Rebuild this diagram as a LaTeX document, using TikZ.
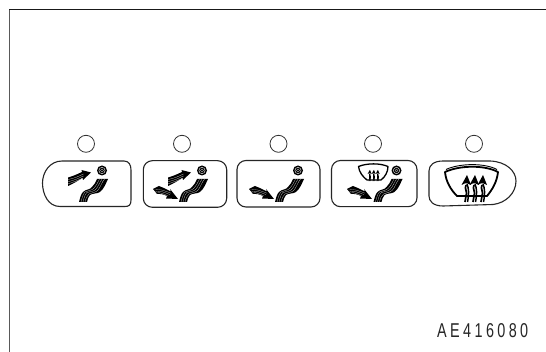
\documentclass[tikz,border=0pt]{standalone}
\usepackage{fontspec}
\setmainfont{Liberation Sans}
\newfontfamily\codefont[FakeStretch=.72]{Liberation Sans}
\tikzset{
  px/.style={x=1pt,y=-1pt},
  panel/.style={draw=black!85,line width=1.1pt,line join=round},
  lamp/.style={circle,draw=black!80,line width=.8pt,minimum size=17pt,inner sep=0pt},
  frameline/.style={draw=black!65,line width=1.5pt},
  stripe/.style={draw=white,line width=.16pt},
  wire/.style={draw=black!90,line width=1.6pt},
  label/.style={inner sep=0pt,text=black!85}
}
\newcommand{\seatshape}[2]{%
 \begin{scope}[shift={(#1,#2)}]
  \fill[black] (0,0) .. controls (1,-4) and (2,-8) .. (4,-10) .. controls (7,-13) and (11,-12) .. (13,-15) .. controls (15,-17) and (17,-20) .. (18,-23)
   -- (29,-23) .. controls (27,-19) and (25,-13) .. (21,-10) .. controls (18,-8) and (14,-9) .. (11,-7) .. controls (9,-5) and (9,-3) .. (8,0) -- cycle;
  \draw[stripe] (2,0) .. controls (3,-4) and (4,-8) .. (6,-10) .. controls (9,-12) and (13,-11) .. (15,-14) .. controls (17,-16) and (19,-20) .. (20.5,-23);
  \draw[stripe] (4,0) .. controls (5,-4) and (6,-8) .. (8,-9.5) .. controls (11,-11) and (15,-10) .. (17,-13) .. controls (19,-15) and (21,-20) .. (23,-23);
  \draw[stripe] (6,0) .. controls (7,-4) and (8,-6.5) .. (10,-8) .. controls (13,-10) and (17,-9) .. (19,-12) .. controls (21,-14) and (23,-20) .. (25.5,-23);
  \fill[black] (23,-31.5) circle (5);
  \draw[white,line width=.4pt] (23,-31.5) circle (3.1);
  \draw[white,line width=.3pt] (23,-31.5) circle (1.5);
 \end{scope}}
\newcommand{\upflow}[2]{%
 \begin{scope}[shift={(#1,#2)}]
  \fill[black] (-.5,-7.5) .. controls (5,-9) and (9,-11) .. (13.5,-13) -- (13,-15) -- (22.5,-12.5) -- (14.5,-5) -- (14,-7) .. controls (9,-4) and (5,-1.5) .. (-.5,1) -- cycle;
  \draw[stripe] (-.5,-5.5) .. controls (5,-6.5) and (10,-8.5) .. (15,-11);
  \draw[stripe] (-.5,-3.3) .. controls (5,-4.5) and (10,-6.6) .. (15,-9);
  \draw[stripe] (-.5,-1.2) .. controls (5,-2.7) and (10,-5) .. (14.5,-7);
 \end{scope}}
\newcommand{\downflow}[2]{%
 \begin{scope}[shift={(#1,#2)}]
  \fill[black] (-1,-1) -- (5,-4) .. controls (9,-2.5) and (13,-.5) .. (17,1.5) -- (16,-1) -- (24,9) -- (12,8.5) -- (13,6) .. controls (10,4.5) and (6,3.5) .. (3,4) -- cycle;
  \draw[stripe] (.5,0) .. controls (6,-1.5) and (11,1) .. (17,3.2);
  \draw[stripe] (1.5,1.5) .. controls (6,.5) and (11,2.5) .. (16,4.6);
  \draw[stripe] (2.5,3) .. controls (6,2) and (10,4) .. (14,6);
 \end{scope}}
\newcommand{\heatarrow}[3]{%
 \begin{scope}[shift={(#1,#2)},scale=#3]
  \draw[black,line width=#3*1.7pt] (0,-12) .. controls (-2,-8) and (2,-5) .. (0,-1) .. controls (-1,1) and (0,3) .. (-1,5);
  \fill[black] (1,-22) -- (5,-12) -- (1.5,-13.5) -- (-1.5,-13.5) -- (-4.5,-12) -- cycle;
  \draw[black,line width=#3*1.5pt] (1,-13) .. controls (3,-8) and (3,-3) .. (1.5,5);
 \end{scope}}
\begin{document}
\begin{tikzpicture}[px]
\useasboundingbox (0,0) rectangle (546,352);
\fill[white] (0,0) rectangle (546,352);
\coordinate (tl) at (9.7,9.7);
\coordinate (tr) at (546,9.7);
\coordinate (bl) at (9.7,352);
\draw[frameline] (bl) -- (tl);
\draw[wire] (9,9.7) -- (tr);
\foreach \n/\x in {a/86,b/182,c/278.5,d/373,e/474}{
  \node[lamp] (\n) at (\x,143.8) {};
}
\draw[panel] (62,161) -- (124,161) .. controls (129,161) and (131,165) .. (131,170) -- (131,200) .. controls (131,205) and (129,206.5) .. (125,206.5) -- (60,206.5) .. controls (48,206.5) and (42.5,194) .. (42.5,183) .. controls (42.5,172) and (50,161) .. (62,161) -- cycle;
\draw[panel,rounded corners=9pt] (143.3,160.7) rectangle (226.7,207.3);
\draw[panel,rounded corners=9pt] (237,160.5) rectangle (320,207);
\draw[panel,rounded corners=9pt] (331.5,160.5) rectangle (417,206.7);
\draw[panel] (443,161) -- (490,161) .. controls (506,161.5) and (516,171) .. (516,181) .. controls (516,193) and (506,203) .. (493,204.5) -- (443,206) .. controls (433,206) and (429,201) .. (429,196) -- (429,171) .. controls (429,165) and (434,161) .. (443,161) -- cycle;
\seatshape{79}{202}
\upflow{68.5}{185}
\seatshape{179}{202}
\upflow{168.5}{185}
\downflow{154}{190}
\seatshape{275}{202}
\downflow{250}{190}
\seatshape{373.5}{202}
\downflow{348}{190}
% small windshield
\draw[black,line width=1.3pt,line join=round] (358.5,166.5) .. controls (367,163) and (380,163) .. (388,166.5) .. controls (388,172) and (385,177) .. (381,180) -- (367,180) .. controls (363,177) and (359,172) .. (358.5,166.5) -- cycle;
\foreach \x in {369.5,373.5,377.5}{\heatarrow{\x}{179}{.42}}
% large windshield
\draw[black,line width=1.8pt,line join=round] (445,172) .. controls (460,165) and (485,165) .. (498,172) .. controls (497,182) and (492,190) .. (487,196) -- (457,196) .. controls (451,190) and (446,182) .. (445,172) -- cycle;
\draw[black,line width=.9pt] (446,169.5) .. controls (460,163) and (485,163) .. (497,169.5);
\foreach \x in {466,474,482}{\heatarrow{\x}{197}{1}}
\node[label,anchor=base west,font=\codefont\fontsize{20}{21}\selectfont] (code) at (437,337.5) {A\kern3.4pt E\kern3.4pt 4\kern3.4pt 1\kern3.4pt 6\kern3.4pt 0\kern3.4pt 8\kern3.4pt 0};
\end{tikzpicture}
\end{document}
